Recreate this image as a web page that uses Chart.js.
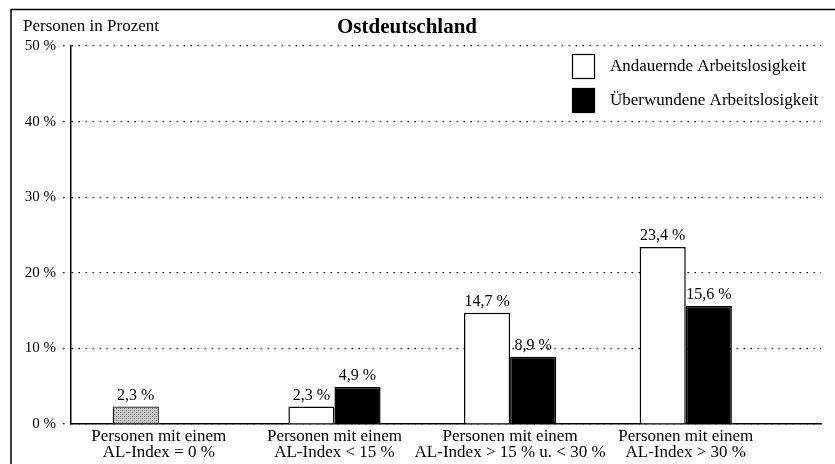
<!DOCTYPE html>
<html>
<head>
<meta charset="utf-8">
<script src="https://cdn.jsdelivr.net/npm/chart.js@4.4.1/dist/chart.umd.min.js"></script>
<style>
  html, body { margin: 0; padding: 0; background: #fff; }
  #wrap { width: 835px; height: 464px; position: relative; }
</style>
</head>
<body>
<div id="wrap"><canvas id="chart" width="835" height="464"></canvas></div>
<script>
// Werte aus der Abbildung (Ostdeutschland)
const categories = [
  ['Personen mit einem', 'AL-Index = 0 %'],
  ['Personen mit einem', 'AL-Index < 15 %'],
  ['Personen mit einem', 'AL-Index > 15 % u. < 30 %'],
  ['Personen mit einem', 'AL-Index > 30 %']
];
const andauernd   = [null, 2.3, 14.7, 23.4];
const ueberwunden = [null, 4.9, 8.9, 15.6];
const ohneAL      = [2.3, null, null, null];
const yTicks = [0, 10, 20, 30, 40, 50];
const legendLabels = ['Andauernde Arbeitslosigkeit', 'Überwundene Arbeitslosigkeit'];

const SERIF = '"Liberation Serif", "Times New Roman", serif';
const canvas = document.getElementById('chart');
const ctx = canvas.getContext('2d');

// graues Punktraster für den Balken "AL-Index = 0 %"
function grauRaster() {
  const p = document.createElement('canvas');
  p.width = 4; p.height = 4;
  const g = p.getContext('2d');
  g.fillStyle = '#cfcfcf'; g.fillRect(0, 0, 4, 4);
  g.fillStyle = '#666'; g.fillRect(0, 0, 1, 1); g.fillRect(2, 2, 1, 1);
  g.fillStyle = '#999'; g.fillRect(2, 0, 1, 1); g.fillRect(0, 2, 1, 1);
  return ctx.createPattern(p, 'repeat');
}

const toPoints = arr => arr.map((v, i) => ({ x: i, y: v }));
const fmt = v => v.toFixed(1).replace('.', ',') + ' %';

const valueLabels = {
  id: 'valueLabels',
  afterDatasetsDraw(chart) {
    const c = chart.ctx;
    c.save();
    c.font = '16px ' + SERIF;
    c.fillStyle = '#000';
    c.textAlign = 'center';
    c.textBaseline = 'bottom';
    chart.data.datasets.forEach((ds, di) => {
      chart.getDatasetMeta(di).data.forEach((bar, i) => {
        const v = ds.data[i].y;
        if (v == null) return;
        c.fillText(fmt(v), bar.x, bar.y - 3);
      });
    });
    c.restore();
  }
};

const decorations = {
  id: 'decorations',
  afterDraw(chart) {
    const c = chart.ctx;
    c.save();
    // Rahmen
    c.strokeStyle = '#000';
    c.lineWidth = 1.5;
    c.beginPath();
    c.moveTo(11, 464); c.lineTo(11, 9.5); c.lineTo(835, 9.5);
    c.stroke();
    // Titel
    c.fillStyle = '#000';
    c.textBaseline = 'middle';
    c.textAlign = 'center';
    c.font = 'bold 21px ' + SERIF;
    c.fillText('Ostdeutschland', 407, 28);
    c.textAlign = 'left';
    c.font = '17px ' + SERIF;
    c.fillText('Personen in Prozent', 23, 27);
    // Legende
    const ds = chart.data.datasets;
    [0, 1].forEach(k => {
      const y = 54 + k * 34;
      c.fillStyle = ds[k].backgroundColor;
      c.fillRect(572, y, 22, 24);
      c.lineWidth = 1.2;
      c.strokeStyle = '#000';
      c.strokeRect(572.5, y + 0.5, 22, 24);
      c.fillStyle = '#000';
      c.font = '17px ' + SERIF;
      c.fillText(legendLabels[k], 610, y + 13);
    });
    c.restore();
  }
};

new Chart(canvas, {
  type: 'bar',
  data: {
    datasets: [
      { label: legendLabels[0], data: toPoints(andauernd), stack: 'a',
        backgroundColor: '#fff', borderColor: '#000', borderWidth: 1.5, borderSkipped: 'bottom' },
      { label: legendLabels[1], data: toPoints(ueberwunden), stack: 'b',
        backgroundColor: '#000', borderColor: '#000', borderWidth: 1.5, borderSkipped: 'bottom' },
      { label: 'AL-Index = 0 %', data: toPoints(ohneAL), stack: 'a',
        backgroundColor: grauRaster(), borderColor: '#000', borderWidth: 1.2, borderSkipped: 'bottom' }
    ]
  },
  options: {
    responsive: false,
    animation: false,
    devicePixelRatio: 1,
    categoryPercentage: 0.525,
    barPercentage: 1,
    layout: { padding: { top: 46, right: 14, bottom: 0, left: 0 } },
    plugins: { legend: { display: false }, tooltip: { enabled: false }, title: { display: false } },
    scales: {
      x: {
        type: 'linear', min: -0.5, max: 3.77, stacked: true, offset: false,
        afterBuildTicks: s => { s.ticks = categories.map((c, i) => ({ value: i })); },
        afterFit: s => { s.height = 40; },
        ticks: {
          autoSkip: false, maxRotation: 0, padding: 5, color: '#000',
          font: { family: SERIF, size: 17, lineHeight: 0.92 },
          callback: v => categories[Math.round(v)]
        },
        grid: { display: false, drawTicks: false },
        border: { display: true, color: '#000', width: 1.5 }
      },
      y: {
        min: 0, max: 50,
        afterBuildTicks: s => { s.ticks = yTicks.map(v => ({ value: v })); },
        afterFit: s => { s.width = 71; },
        ticks: { color: '#000', padding: 7, font: { family: SERIF, size: 15 }, callback: v => v + ' %' },
        grid: { color: '#000', lineWidth: 1.2, tickLength: 8, tickColor: '#000', tickBorderDash: [1.5, 5.5] },
        border: { display: true, color: '#000', width: 1.5, dash: [1.5, 5.5] }
      }
    }
  },
  plugins: [valueLabels, decorations]
});
</script>
</body>
</html>
